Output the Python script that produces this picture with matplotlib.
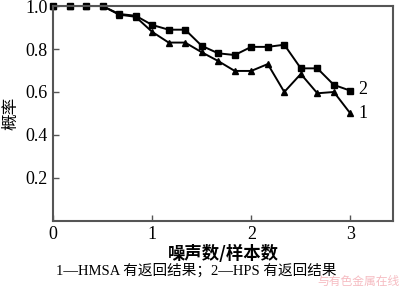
import matplotlib
matplotlib.use("Agg")
import matplotlib.pyplot as plt

x = [i / 6 for i in range(19)]
hps = [1.0, 1.0, 1.0, 1.0, 0.963, 0.955, 0.912, 0.89, 0.89, 0.815, 0.78, 0.772,
       0.81, 0.81, 0.82, 0.71, 0.71, 0.633, 0.606]
hmsa = [1.0, 1.0, 1.0, 1.0, 0.96, 0.95, 0.88, 0.83, 0.83, 0.785, 0.744, 0.698,
        0.698, 0.73, 0.60, 0.684, 0.594, 0.60, 0.50]
xticks = [0, 1, 2, 3]
yticks = [0.2, 0.4, 0.6, 0.8, 1.0]

serif = ["Liberation Serif", "DejaVu Serif"]
cjk = ["Noto Sans CJK SC", "Liberation Serif"]
mixed = ["Liberation Serif", "Noto Sans CJK SC"]

fig = plt.figure(figsize=(4.0, 2.88), dpi=100)
ax = fig.add_axes([0.1325, 0.233, 0.85, 0.746])

ax.plot(x, hmsa, color="black", lw=1.4, marker="^", ms=5, clip_on=False)
ax.plot(x, hps, color="black", lw=1.4, marker="s", ms=5, clip_on=False)

ax.set_xlim(0, 3.43)
ax.set_ylim(0, 1.0)
ax.set_xticks(xticks)
ax.set_yticks(yticks)
ax.set_xticklabels([str(t) for t in xticks], family=serif, fontsize=13)
ax.set_yticklabels([f"{t:.1f}" for t in yticks], family=serif, fontsize=13)
ax.tick_params(direction="in", length=4, width=1, color="#555555", pad=4)
for s in ax.spines.values():
    s.set_color("#555555")
    s.set_linewidth(1.5)

ax.text(3.08, hps[-1] + 0.005, "2", family=serif, fontsize=13, va="center", ha="left")
ax.text(3.08, hmsa[-1], "1", family=serif, fontsize=13, va="center", ha="left")

ax.set_ylabel("概率", family=cjk, fontsize=12, labelpad=4)
ax.set_xlabel("噪声数/样本数", family=cjk, fontsize=12.5, fontweight="bold", labelpad=1)
fig.text(0.49, 0.035, "1—HMSA 有返回结果；2—HPS 有返回结果", family=mixed,
         fontsize=10.5, ha="center", va="bottom")
fig.text(0.998, 0.0, "与有色金属在线", family=cjk, fontsize=8.5, ha="right",
         va="bottom", color="#f2a0a8", alpha=0.7)

fig.savefig("out.png", dpi=100)
